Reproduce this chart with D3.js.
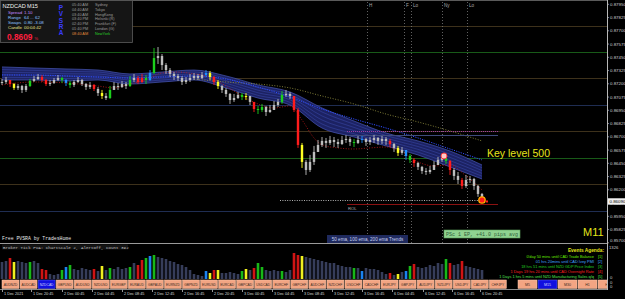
<!DOCTYPE html>
<html><head><meta charset="utf-8">
<script src="https://cdn.jsdelivr.net/npm/d3@7"></script>
<style>html,body{margin:0;padding:0;background:#000;overflow:hidden}</style>
</head><body><svg id="c" width="625" height="299"></svg>
<script>
// ---------------- DATA ----------------
const closes = [0.87217,0.87236,0.87198,0.87161,0.87179,0.87142,0.87179,0.87227,0.87245,0.87264,
0.87236,0.87198,0.87208,0.87236,0.87255,0.87236,0.87208,0.87189,0.87217,0.87236,
0.87198,0.87170,0.87189,0.87151,0.87113,0.87085,0.87066,0.87142,0.87179,0.87170,
0.87198,0.87179,0.87236,0.87255,0.87217,0.87255,0.87236,0.87302,0.87443,0.87462,
0.87377,0.87330,0.87293,0.87274,0.87255,0.87217,0.87236,0.87255,0.87274,0.87255,
0.87283,0.87302,0.87264,0.87217,0.87179,0.87142,0.87104,0.87047,0.87066,0.87095,
0.87076,0.87085,0.87029,0.86962,0.86953,0.86981,0.86934,0.86953,0.87000,0.87029,
0.87095,0.87104,0.87085,0.86953,0.86623,0.86463,0.86387,0.86463,0.86557,0.86623,
0.86661,0.86642,0.86670,0.86651,0.86632,0.86670,0.86680,0.86651,0.86642,0.86670,
0.86680,0.86651,0.86670,0.86689,0.86661,0.86680,0.86661,0.86632,0.86595,0.86548,
0.86576,0.86519,0.86482,0.86453,0.86416,0.86378,0.86368,0.86387,0.86434,0.86482,
0.86500,0.86472,0.86387,0.86331,0.86293,0.86236,0.86293,0.86302,0.86236,0.86161,
0.86090];
const highs = [0.87245,0.87264,0.87236,0.87208,0.87198,0.87189,0.87198,0.87245,0.87274,0.87293,
0.87283,0.87245,0.87236,0.87255,0.87283,0.87264,0.87245,0.87227,0.87236,0.87264,
0.87245,0.87208,0.87217,0.87198,0.87170,0.87142,0.87113,0.87179,0.87217,0.87208,
0.87227,0.87217,0.87274,0.87293,0.87274,0.87293,0.87283,0.87330,0.87538,0.87547,
0.87481,0.87396,0.87349,0.87311,0.87293,0.87274,0.87264,0.87293,0.87302,0.87293,
0.87311,0.87330,0.87321,0.87274,0.87236,0.87189,0.87161,0.87113,0.87104,0.87123,
0.87113,0.87113,0.87085,0.87029,0.86991,0.87010,0.86991,0.87000,0.87038,0.87057,
0.87132,0.87142,0.87123,0.87085,0.86972,0.86642,0.86482,0.86529,0.86614,0.86670,
0.86698,0.86689,0.86708,0.86698,0.86680,0.86708,0.86717,0.86698,0.86680,0.86708,
0.86708,0.86689,0.86698,0.86717,0.86698,0.86708,0.86698,0.86680,0.86642,0.86614,
0.86604,0.86576,0.86538,0.86500,0.86463,0.86425,0.86406,0.86425,0.86472,0.86510,
0.86538,0.86529,0.86482,0.86406,0.86368,0.86312,0.86340,0.86331,0.86312,0.86246,
0.86170];
const lows = [0.87189,0.87198,0.87170,0.87142,0.87142,0.87113,0.87123,0.87170,0.87217,0.87236,
0.87217,0.87179,0.87179,0.87198,0.87227,0.87208,0.87179,0.87161,0.87170,0.87208,
0.87179,0.87142,0.87151,0.87132,0.87085,0.87057,0.87047,0.87057,0.87142,0.87142,
0.87161,0.87151,0.87170,0.87217,0.87198,0.87208,0.87198,0.87227,0.87293,0.87387,
0.87330,0.87293,0.87264,0.87236,0.87227,0.87189,0.87198,0.87217,0.87236,0.87236,
0.87245,0.87264,0.87236,0.87189,0.87151,0.87113,0.87076,0.87010,0.87029,0.87057,
0.87047,0.87047,0.87000,0.86934,0.86915,0.86934,0.86896,0.86925,0.86962,0.86981,
0.87010,0.87076,0.87057,0.86934,0.86595,0.86406,0.86340,0.86368,0.86434,0.86557,
0.86604,0.86595,0.86623,0.86604,0.86595,0.86623,0.86642,0.86614,0.86604,0.86632,
0.86642,0.86614,0.86623,0.86642,0.86623,0.86632,0.86623,0.86604,0.86557,0.86519,
0.86529,0.86482,0.86453,0.86416,0.86387,0.86350,0.86340,0.86350,0.86387,0.86434,
0.86463,0.86444,0.86340,0.86293,0.86255,0.86208,0.86218,0.86265,0.86199,0.86133,
0.86080];
const volumes = [663,702,819,663,702,663,624,663,702,624,
390,351,195,156,195,351,468,546,390,351,
429,390,351,390,312,507,351,429,390,468,
390,429,468,624,546,741,819,897,936,858,
819,780,702,663,585,546,468,351,195,156,
117,312,234,351,351,234,234,273,234,195,
312,390,351,429,624,468,351,312,351,312,
312,273,351,1014,936,897,858,819,780,741,
702,663,624,624,546,507,468,468,429,429,
312,429,390,390,351,273,195,234,156,195,
273,312,507,585,468,429,468,546,507,624,
585,780,624,546,585,702,507,468,429,390,
351];
const pvsraIdx  = [2,3,7,10,11,15,16,17,23,25,27,32,34,35,36,37,38,51,52,53,54,60,61,63,64,65,70,73,74,75,88,90,97,99,101,102,103,111,112,115];
const pvsraType = ['r','y','g','r','r','g','b','g','r','y','g','g','r','r','g','b','g','b','y','r','y','g','y','r','g','g','g','r','r','y','g','b','r','y','b','g','r','g','r','r'];

const maIdx = [0,8,16,24,32,40,48,56,64,72,80,88,96,104,112,120];
const ribbonTop    = [0.87359,0.87349,0.87340,0.87330,0.87293,0.87311,0.87330,0.87274,0.87189,0.87123,0.86972,0.86849,0.86736,0.86661,0.86566,0.86434];
const ribbonBottom = [0.87236,0.87236,0.87227,0.87236,0.87198,0.87217,0.87236,0.87161,0.87066,0.87000,0.86783,0.86698,0.86614,0.86529,0.86416,0.86302];
const ema100       = [0.87283,0.87283,0.87274,0.87264,0.87255,0.87264,0.87274,0.87245,0.87170,0.87076,0.86962,0.86868,0.86783,0.86689,0.86585,0.86482];
const smaIdx = [48,56,64,72,80,88,96,104,112,120];
const sma200 = [0.87245,0.87217,0.87198,0.87161,0.87085,0.87010,0.86915,0.86840,0.86755,0.86661];
const fastIdx = [0,8,16,24,28,32,36,40,44,48,52,56,60,64,68,72,75,78,80,84,88,92,96,100,104,108,112,116,120];
const fastEma = [0.87189,0.87217,0.87208,0.87179,0.87161,0.87198,0.87236,0.87302,0.87311,0.87293,0.87264,0.87179,0.87085,0.87010,0.86972,0.86991,0.86859,0.86689,0.86623,0.86595,0.86585,0.86595,0.86604,0.86557,0.86463,0.86425,0.86434,0.86331,0.86199];

const keyLevels = [0.8775,0.875,0.8725,0.87,0.8675,0.865,0.8625,0.86];
const levelPrices = [0.86755,0.86717,0.86104,0.86066];
const levelFrom   = [86.25,86.25,69.5,86.25];
const levelTo     = [124,124,119,124];
const priceTicks = [0.8795,0.87825,0.877,0.87575,0.8745,0.87325,0.872,0.87075,0.8695,0.86825,0.867,0.86575,0.8645,0.86325,0.862,0.86075,0.8595,0.85825,0.857];
const currentPrice = 0.86090;
const sessionIdx = [91.25,100.5,102.25,110,116.25];
const sessionLabels = ["H","F","Lo","Ny","Lo"];
const timeIdx = [0,7.25,15,22.5,30,37.5,45,52.5,60,67.5,75,82.5,90,97.5,105.25,112.5,119.5];
const timeLabels = ["1 Dec 2021","1 Dec 20:45","2 Dec 00:45","2 Dec 04:45","2 Dec 08:45","2 Dec 12:45","2 Dec 16:45","2 Dec 20:45","3 Dec 00:45","3 Dec 04:45","3 Dec 08:45","3 Dec 12:45","3 Dec 16:45","6 Dec 04:45","6 Dec 12:45","6 Dec 16:45","6 Dec 20:45"];
const symbols = ["AUDNZD","AUDCAD","NZDCAD","GBPUSD","AUDUSD","NZDUSD","EURGBP","EURAUD","GBPAUD","EURNZD","GBPNZD","EURUSD","EURCAD","GBPCAD","USDCAD","EURCHF","GBPCHF","AUDCHF","NZDCHF","USDCHF","CADCHF","EURJPY","GBPJPY","AUDJPY","NZDJPY","USDJPY","CADJPY","CHFJPY"];
const activeSymbol = "NZDCAD";
const timeframes = ["M5","M15","M30","H1","H4"];
const activeTf = "M15";
const events = ["0'day 50 mins until CAD Trade Balance","01 hrs 20mins until CAD Ivey PMI","18 hrs 51 mins until NZD GDP Price Index","1 Days 19 hrs 20 mins until CAD Overnight Rate","1 Days 1 hrs 5 mins until NZD Manufacturing Sales q/q"];
const sessTimes = ["05:40 AM","04:40 AM","03:40 AM","03:40 PM","02:40 PM","01:40 PM","08:40 AM"];
const sessCities = ["Sydney","Tokyo","HongKong","Helsinki (R)","Frankfurt (F)","London (G)","NewYork"];
const pinkMarker = {idx:110.5, price:0.86519};
const lastMarker = {idx:120, price:0.86104};
const volMax = 1326;

// ---------------- DRAW ----------------
const W=625,H=299, AX=607, MAINB=243;
const svg=d3.select('#c');
const F="'Liberation Sans',Arial,sans-serif", MONO="'Liberation Mono','DejaVu Sans Mono',monospace";
svg.append('rect').attr('width',W).attr('height',H).attr('fill','#000');
const defs=svg.append('defs');
defs.append('clipPath').attr('id','cm').append('rect').attr('x',0).attr('y',0).attr('width',AX).attr('height',MAINB);
defs.append('clipPath').attr('id','ci').append('rect').attr('x',0).attr('y',MAINB).attr('width',AX).attr('height',H-MAINB);

const x=d3.scaleLinear().domain([0,120]).range([2,482]);
const y=d3.scaleLinear().domain([0.86,0.875]).range([211,52]);
const main=svg.append('g').attr('clip-path','url(#cm)');

// top border
svg.append('line').attr('x1',0).attr('x2',AX).attr('y1',0.5).attr('y2',0.5).attr('stroke','#5a5a5a');

// key levels
keyLevels.forEach(l=>{
  const r=Math.round(l*10000)%100;
  const c= r===50?'#185a18': r===0?'#1f2d52':'#3d311b';
  main.append('line').attr('x1',0).attr('x2',AX).attr('y1',Math.round(y(l))+0.5).attr('y2',Math.round(y(l))+0.5)
    .attr('stroke',c).attr('stroke-width',1);
});

// session lines
sessionIdx.forEach((s,i)=>{
  const xx=Math.round(x(s))+0.5;
  main.append('line').attr('x1',xx).attr('x2',xx).attr('y1',2).attr('y2',MAINB)
    .attr('stroke','#7a7a7a').attr('stroke-width',0.8).attr('stroke-dasharray','1,2');
  main.append('text').attr('x',xx+1.5).attr('y',7).attr('fill','#a8a8a8').attr('font-family',F).attr('font-size',4.6).text(sessionLabels[i]);
});

// ribbon
const rib=maIdx.map((d,i)=>({i:d,t:ribbonTop[i],b:ribbonBottom[i]}));
main.append('path').datum(rib).attr('d',d3.area().curve(d3.curveMonotoneX).x(d=>x(d.i)).y0(d=>y(d.b)).y1(d=>y(d.t)))
  .attr('fill','#1d2468').attr('opacity',0.95);
[0,0.2,0.4,0.6,0.8,1].forEach(f=>{
  main.append('path').datum(rib).attr('d',d3.line().curve(d3.curveMonotoneX).x(d=>x(d.i)).y(d=>y(d.t+(d.b-d.t)*f)))
   .attr('fill','none').attr('stroke', (f===0||f===1)?'#4858b8':'#34409a').attr('stroke-width',0.7);
});

// moving averages
const lineGen=(idx)=>d3.line().curve(d3.curveMonotoneX).x((d,i)=>x(idx[i])).y(d=>y(d));
main.append('path').datum(sma200).attr('d',lineGen(smaIdx)).attr('fill','none').attr('stroke','#8c8a3c').attr('stroke-width',0.9).attr('stroke-dasharray','1,1.6');
main.append('path').datum(ema100).attr('d',lineGen(maIdx)).attr('fill','none').attr('stroke','#2d4cff').attr('stroke-width',1).attr('stroke-dasharray','1.2,1.2');
main.append('path').datum(fastEma).attr('d',lineGen(fastIdx)).attr('fill','none').attr('stroke','#c81a1a').attr('stroke-width',0.8).attr('stroke-dasharray','1,1.6');

// level lines
const lvStyle=[{c:'#a03ca0',d:'1,1',w:1},{c:'#3f4a7c',d:null,w:1},{c:'#c8c8c8',d:'1,1.4',w:0.9},{c:'#8c1212',d:null,w:1}];
levelPrices.forEach((p,i)=>{
  const l=main.append('line').attr('x1',x(levelFrom[i])).attr('x2',x(levelTo[i])).attr('y1',Math.round(y(p))+0.5).attr('y2',Math.round(y(p))+0.5)
   .attr('stroke',lvStyle[i].c).attr('stroke-width',lvStyle[i].w);
  if(lvStyle[i].d) l.attr('stroke-dasharray',lvStyle[i].d);
});
main.append('text').attr('x',x(levelFrom[3])+1).attr('y',y(levelPrices[3])+5.5).attr('fill','#b0b0b0').attr('font-family',F).attr('font-size',4.2).text('ROL');

// candles
const colorOf={n:'#bdbdbd',r:'#ff1c1c',g:'#1ccf1c',b:'#2090ff',y:'#ffff22'};
const codes=closes.map(()=> 'n'); pvsraIdx.forEach((k,j)=>codes[k]=pvsraType[j]);
const cg=main.append('g');
closes.forEach((c,i)=>{
  const o=i>0?closes[i-1]:c;
  const col=colorOf[codes[i]];
  const xx=x(i);
  cg.append('line').attr('x1',xx).attr('x2',xx).attr('y1',y(Math.max(highs[i],o,c))).attr('y2',y(Math.min(lows[i],o,c)))
    .attr('stroke',col).attr('stroke-width',0.9);
  const y0=y(Math.max(o,c)), y1=y(Math.min(o,c));
  cg.append('rect').attr('x',xx-1.2).attr('y',y0).attr('width',2.4).attr('height',Math.max(1,y1-y0)).attr('fill',col);
});

// markers
main.append('circle').attr('cx',x(pinkMarker.idx)).attr('cy',y(pinkMarker.price)).attr('r',3).attr('fill','#ffc8c8').attr('stroke','#ff3a3a').attr('stroke-width',1);
main.append('circle').attr('cx',x(lastMarker.idx)).attr('cy',y(lastMarker.price)).attr('r',3.2).attr('fill','#ff1a1a').attr('stroke','#ffb000').attr('stroke-width',1.3);
main.append('rect').attr('x',x(lastMarker.idx)+4).attr('y',y(lastMarker.price)+0.5).attr('width',2).attr('height',2).attr('fill','#ff2020');

// annotations
main.append('text').attr('x',487).attr('y',157).attr('fill','#e6e61a').attr('font-family',F).attr('font-size',10.5).text('Key level 500');
main.append('text').attr('x',583).attr('y',236).attr('fill','#e6e61a').attr('font-family',F).attr('font-size',11).text('M11');
main.append('rect').attr('x',444).attr('y',230).attr('width',76).attr('height',8).attr('fill','#8fd290').attr('stroke','#5aa05a').attr('stroke-width',0.6);
main.append('text').attr('x',482).attr('y',236).attr('text-anchor','middle').attr('fill','#2f5f3a').attr('font-family',MONO).attr('font-size',5).text('PSc 1 EP, +41.0 pips avg');
main.append('rect').attr('x',327).attr('y',235).attr('width',81).attr('height',8).attr('fill','#1f2a5e');
main.append('text').attr('x',367.5).attr('y',241).attr('text-anchor','middle').attr('fill','#c8d0f0').attr('font-family',F).attr('font-size',4.6).text('50 ema, 100 ema, 200 ema Trends');
main.append('text').attr('x',2).attr('y',240).attr('fill','#e8e8e8').attr('font-family',MONO).attr('font-size',4.8).text('Free PVSRA by TradesHome');

// separator
svg.append('line').attr('x1',0).attr('x2',AX).attr('y1',MAINB+0.5).attr('y2',MAINB+0.5).attr('stroke','#9a9a9a').attr('stroke-width',1.2);

// indicator window
const ind=svg.append('g').attr('clip-path','url(#ci)');
const vy=d3.scaleLinear().domain([0,volMax]).range([279,245]);
const volCol={n:'#363d5a',r:'#d01414',g:'#18b818',b:'#1a82f0',y:'#f0f020'};
volumes.forEach((v,i)=>{
  ind.append('rect').attr('x',x(i)-1.3).attr('y',vy(v)).attr('width',2.6).attr('height',vy(0)-vy(v)).attr('fill',volCol[codes[i]]);
});
ind.append('rect').attr('x',2).attr('y',244.5).attr('width',126).attr('height',5).attr('fill','#141414');
ind.append('text').attr('x',3).attr('y',248.8).attr('fill','#c0c0c0').attr('font-family',MONO).attr('font-size',4.2).text('Broker Tick PVA:  ChartScale 2, AlertOff, Count 392');
ind.append('text').attr('x',604).attr('y',252).attr('text-anchor','end').attr('fill','#e6e61a').attr('font-family',F).attr('font-size',4.8).attr('font-weight','bold').text('Events Agenda:');
const evCol=['#66ee00','#40a8ff','#20d020','#ff2020','#50e050'];
events.forEach((e,i)=>{
  const yy=257.5+i*5;
  ind.append('text').attr('x',594).attr('y',yy).attr('text-anchor','end').attr('fill',evCol[i]).attr('font-family',F).attr('font-size',3.9).text(e);
  ind.append('text').attr('x',598).attr('y',yy).attr('fill',evCol[i]).attr('font-family',F).attr('font-size',3.9).text('['+(i+1)+']');
});

// buttons
const bg=svg.append('g').attr('clip-path','url(#ci)');
symbols.forEach((s,k)=>{
  const bx=2+k*18.05, act=s===activeSymbol;
  bg.append('rect').attr('x',bx).attr('y',280).attr('width',17).attr('height',8.5).attr('fill',act?'#1010e0':'#f3a583').attr('stroke',act?'#6060ff':'#f9c9b0').attr('stroke-width',0.5);
  bg.append('text').attr('x',bx+8.5).attr('y',285.6).attr('text-anchor','middle').attr('fill',act?'#d0d0ff':'#3a2a22').attr('font-family',F).attr('font-size',3.3).text(s);
});
timeframes.forEach((t,k)=>{
  const bx=518+k*20, act=t===activeTf;
  bg.append('rect').attr('x',bx).attr('y',280).attr('width',19).attr('height',8.5).attr('fill',act?'#1010e0':'#f3a583').attr('stroke',act?'#6060ff':'#f9c9b0').attr('stroke-width',0.5);
  bg.append('text').attr('x',bx+9.5).attr('y',285.8).attr('text-anchor','middle').attr('fill',act?'#d0d0ff':'#3a2a22').attr('font-family',F).attr('font-size',3.6).text(t);
});

// time axis
svg.append('line').attr('x1',0).attr('x2',AX).attr('y1',289.5).attr('y2',289.5).attr('stroke','#8a8a8a');
timeIdx.forEach((t,i)=>{
  const xx=Math.round(x(t))+0.5;
  svg.append('line').attr('x1',xx).attr('x2',xx).attr('y1',289.5).attr('y2',292).attr('stroke','#bdbdbd').attr('stroke-width',0.8);
  svg.append('text').attr('x',xx+1.5).attr('y',294.5).attr('fill','#d8d8d8').attr('font-family',F).attr('font-size',3.8).text(timeLabels[i]);
});

// price axis
svg.append('line').attr('x1',AX+0.5).attr('x2',AX+0.5).attr('y1',0).attr('y2',290).attr('stroke','#b8b8b8');
priceTicks.forEach(p=>{
  const yy=y(p);
  svg.append('line').attr('x1',AX).attr('x2',AX+2).attr('y1',yy).attr('y2',yy).attr('stroke','#b8b8b8').attr('stroke-width',0.7);
  svg.append('text').attr('x',AX+3).attr('y',Math.min(yy+1.6,242)).attr('fill','#cfcfcf').attr('font-family',F).attr('font-size',4.4).text(p.toFixed(5));
});
const cy=y(currentPrice);
svg.append('rect').attr('x',AX+1).attr('y',cy-3.2).attr('width',17).attr('height',6.4).attr('fill','#f0f0f0');
svg.append('text').attr('x',AX+2.5).attr('y',cy+1.6).attr('fill','#000').attr('font-family',F).attr('font-size',4.4).text(currentPrice.toFixed(5));
svg.append('text').attr('x',AX+2).attr('y',249).attr('fill','#cfcfcf').attr('font-family',F).attr('font-size',4.2).text(String(volMax));
[278.5,283.5,288].forEach(v=>svg.append('text').attr('x',AX+3).attr('y',v).attr('fill','#cfcfcf').attr('font-family',F).attr('font-size',4.2).text('0'));

// info panel
const pn=svg.append('g');
pn.append('rect').attr('x',0.5).attr('y',0.5).attr('width',132).attr('height',42).attr('fill','#151515').attr('stroke','#5c5c5c').attr('stroke-width',0.8);
pn.append('text').attr('x',2.5).attr('y',7.5).attr('fill','#f0f0f0').attr('font-family',F).attr('font-size',5.6).text('NZDCAD');
pn.append('text').attr('x',27).attr('y',7.5).attr('fill','#f0f0f0').attr('font-family',F).attr('font-size',5.6).text('M15');
const leftRows=[['Spread','1.10','#c58cff',13.5],['Range','64 ... 62','#8ec4ff',18.5],['Swaps','0.80  -3.08','#8ec4ff',23.5],['Candle','00:04:42','#e6e08a',28.5]];
leftRows.forEach(r=>{
  pn.append('text').attr('x',8).attr('y',r[3]).attr('fill',r[2]).attr('font-family',F).attr('font-size',4.4).text(r[0]);
  pn.append('text').attr('x',24).attr('y',r[3]).attr('fill',r[2]).attr('font-family',F).attr('font-size',4.4).text(r[1]);
});
pn.append('text').attr('x',7).attr('y',39.5).attr('fill','#ff1f3f').attr('font-family',F).attr('font-weight','bold').attr('font-size',8.3).text(currentPrice.toFixed(4));
pn.append('text').attr('x',34.5).attr('y',39.5).attr('fill','#ff1f3f').attr('font-family',F).attr('font-size',4).text('%');
['P','V','S','R','A'].forEach((c,i)=>pn.append('text').attr('x',61).attr('y',10+i*6.3).attr('text-anchor','middle').attr('fill','#3a3cff').attr('font-family',F).attr('font-weight','bold').attr('font-size',6.4).text(c));
sessTimes.forEach((t,i)=>{
  const yy=6+i*4.75, last=i===sessTimes.length-1;
  pn.append('text').attr('x',72).attr('y',yy).attr('fill',last?'#e08a3c':'#9a9a9a').attr('font-family',F).attr('font-size',3.8).text(t);
  pn.append('text').attr('x',95).attr('y',yy).attr('fill',last?'#28d028':'#9a9a9a').attr('font-family',F).attr('font-size',3.8).text(sessCities[i]);
});
</script></body></html>
